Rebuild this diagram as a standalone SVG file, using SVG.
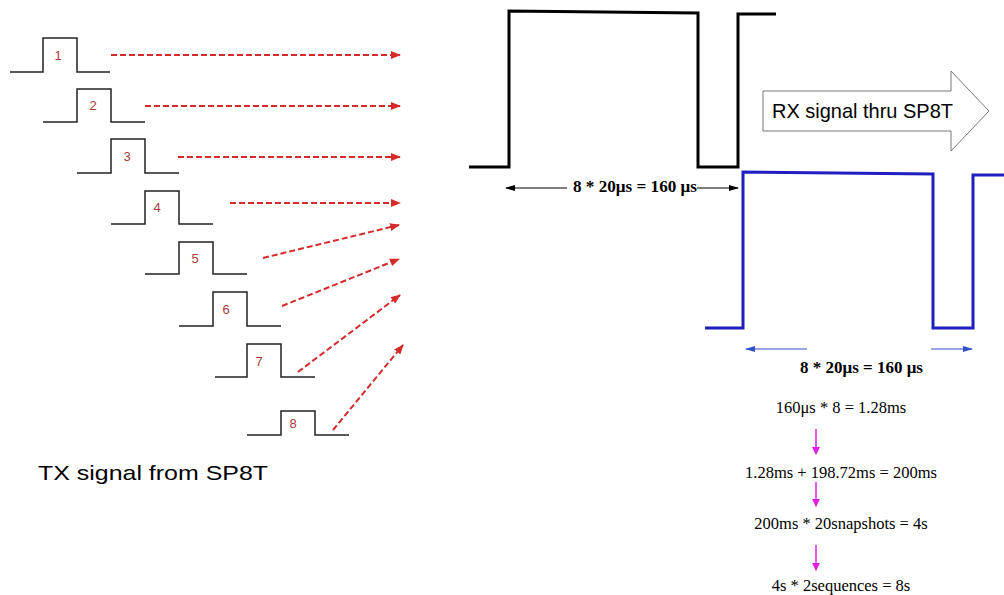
<svg xmlns="http://www.w3.org/2000/svg" width="1004" height="595" viewBox="0 0 1004 595">
<style>
.pulse{fill:none;stroke:#222;stroke-width:1.5}
.num{font-family:"Liberation Sans",Arial,sans-serif;font-size:13px;fill:#a83a3a;text-anchor:middle}
.red{stroke:#d42a2a;stroke-width:2;stroke-dasharray:6 3;fill:none;marker-end:url(#ar)}
.wave{fill:none;stroke:#000;stroke-width:3}
.bwave{fill:none;stroke:#1f1fc0;stroke-width:3}
.bold{font-family:"Liberation Serif","Times New Roman",serif;font-weight:bold;font-size:16px;fill:#000}
.calc{font-family:"Liberation Serif","Times New Roman",serif;font-size:16.5px;fill:#000;text-anchor:middle}
.big{font-family:"Liberation Sans",Arial,sans-serif;font-size:21px;fill:#000}
.mag{stroke:#e020e0;stroke-width:1.5;marker-end:url(#am)}
</style>
<defs>
<marker id="ar" markerWidth="10" markerHeight="8" refX="9" refY="4" orient="auto" markerUnits="userSpaceOnUse"><path d="M0,0 L10,4 L0,8 z" fill="#d42a2a"/></marker>
<marker id="ak" markerWidth="10" markerHeight="8" refX="9" refY="4" orient="auto" markerUnits="userSpaceOnUse"><path d="M0,1 L10,4 L0,7 z" fill="#000"/></marker>
<marker id="ab" markerWidth="10" markerHeight="8" refX="9" refY="4" orient="auto" markerUnits="userSpaceOnUse"><path d="M0,1 L10,4 L0,7 z" fill="#3050c8"/></marker>
<marker id="am" markerWidth="10" markerHeight="10" refX="5" refY="9" orient="0" markerUnits="userSpaceOnUse"><path d="M1,2 L5,10 L9,2 z" fill="#e020e0"/></marker>
</defs>

<g id="tx1"><path class="pulse" d="M10,72 H43 V38 H77 V72 H110"/><text class="num" x="58" y="60">1</text></g>
<g id="tx2"><path class="pulse" d="M43,122 H77 V89 H111 V122 H145"/><text class="num" x="93" y="110">2</text></g>
<g id="tx3"><path class="pulse" d="M77,173 H111 V139 H145 V173 H179"/><text class="num" x="127" y="161">3</text></g>
<g id="tx4"><path class="pulse" d="M111,224 H145 V191 H179 V224 H213"/><text class="num" x="157" y="212">4</text></g>
<g id="tx5"><path class="pulse" d="M145,274 H179 V242 H213 V274 H247"/><text class="num" x="195" y="263">5</text></g>
<g id="tx6"><path class="pulse" d="M179,326 H213 V292 H247 V326 H281"/><text class="num" x="226" y="314">6</text></g>
<g id="tx7"><path class="pulse" d="M215,377 H247 V344 H281 V377 H315"/><text class="num" x="259" y="366">7</text></g>
<g id="tx8"><path class="pulse" d="M247,435 H281 V411 H315 V435 H349"/><text class="num" x="293" y="428">8</text></g>

<g id="connectors">
<line class="red" x1="111" y1="55" x2="400" y2="55"/>
<line class="red" x1="145" y1="106" x2="400" y2="106"/>
<line class="red" x1="178" y1="157" x2="400" y2="157"/>
<line class="red" x1="230" y1="203" x2="400" y2="203"/>
<line class="red" x1="263" y1="258" x2="399" y2="225"/>
<line class="red" x1="282" y1="306" x2="399" y2="259"/>
<line class="red" x1="298" y1="372" x2="400" y2="295"/>
<line class="red" x1="333" y1="430" x2="403" y2="345"/>
<line x1="567" y1="188" x2="506" y2="188" stroke="#000" stroke-width="1.2" marker-end="url(#ak)"/>
<line x1="697" y1="188" x2="738" y2="188" stroke="#000" stroke-width="1.2" marker-end="url(#ak)"/>
<line x1="807" y1="349" x2="746" y2="349" stroke="#3050c8" stroke-width="1.2" marker-end="url(#ab)"/>
<line x1="931" y1="349" x2="972" y2="349" stroke="#3050c8" stroke-width="1.2" marker-end="url(#ab)"/>
<line class="mag" x1="816" y1="429" x2="816" y2="454"/>
<line class="mag" x1="816" y1="482" x2="816" y2="506"/>
<line class="mag" x1="816" y1="545" x2="816" y2="570"/>
</g>

<g id="tx-label"><text class="big" x="38" y="480" textLength="230" lengthAdjust="spacingAndGlyphs">TX signal from SP8T</text></g>

<g id="black-wave">
<path class="wave" d="M469,167 H509 V11 L698,13 V167 H738 V14 H776"/>
<text class="bold" x="573" y="192" textLength="124" lengthAdjust="spacingAndGlyphs">8 * 20μs = 160 μs</text>
</g>

<g id="rx-arrow">
<path d="M763,91 H951 V71 L989,111 L951,151 V131 H763 Z" fill="#fff" stroke="#777" stroke-width="1"/>
<text class="big" x="772" y="118" textLength="181" lengthAdjust="spacingAndGlyphs">RX signal thru SP8T</text>
</g>

<g id="blue-wave">
<path class="bwave" d="M705,328 H743 V172 L933,174 V328 H973 V175 H1004"/>
<text class="bold" x="800" y="373" textLength="123" lengthAdjust="spacingAndGlyphs">8 * 20μs = 160 μs</text>
</g>

<g id="calc1"><text class="calc" x="841" y="413">160μs * 8 = 1.28ms</text></g>
<g id="calc2"><text class="calc" x="841" y="478">1.28ms + 198.72ms = 200ms</text></g>
<g id="calc3"><text class="calc" x="841" y="529">200ms * 20snapshots = 4s</text></g>
<g id="calc4"><text class="calc" x="841" y="591">4s * 2sequences = 8s</text></g>
</svg>
